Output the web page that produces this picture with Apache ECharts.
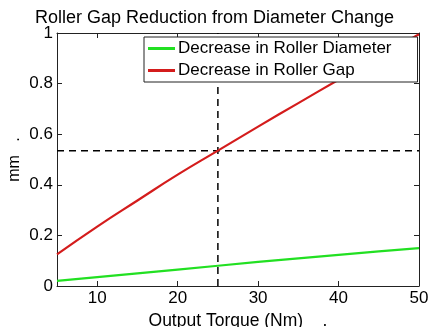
<!DOCTYPE html>
<html>
<head>
    <meta charset="UTF-8">
    <title>Roller Gap Reduction</title>
    <script src="https://cdn.jsdelivr.net/npm/echarts@6/dist/echarts.min.js"></script>
    <style>
        html, body { margin: 0; padding: 0; background: #fff; }
        #chart { width: 429px; height: 327px; }
    </style>
</head>
<body>
    <div id="chart"></div>
    <script>
        // torque values (Nm) and the two curves (mm)
        var torque = [5, 10, 15, 20, 25, 30, 35, 40, 45, 50];
        var diameterDecrease = [0.02, 0.035, 0.05, 0.065, 0.08, 0.095, 0.109, 0.123, 0.137, 0.15];
        var gapDecrease = [0.125, 0.235, 0.338, 0.44, 0.535, 0.63, 0.723, 0.815, 0.905, 0.995];
        var xTicks = [10, 20, 30, 40, 50];
        var yTicks = [0, 0.2, 0.4, 0.6, 0.8, 1];
        var markTorque = 25;
        var markGap = 0.535;

        function pairs(xs, ys) {
            return xs.map(function (x, i) { return [x, ys[i]]; });
        }

        var font = 'Liberation Sans';
        var chart = echarts.init(document.getElementById('chart'));

        var xBase = {
            type: 'value', min: 5, max: 50,
            axisLine: { show: true, onZero: false, lineStyle: { color: '#222', width: 1 } },
            axisTick: { inside: true, length: 5, customValues: xTicks, lineStyle: { color: '#222' } },
            splitLine: { show: false }
        };
        var yBase = {
            type: 'value', min: 0, max: 1,
            axisLine: { show: true, onZero: false, lineStyle: { color: '#222', width: 1 } },
            axisTick: { inside: true, length: 5, customValues: yTicks, lineStyle: { color: '#222' } },
            splitLine: { show: false }
        };

        var option = {
            animation: false,
            backgroundColor: '#fff',
            title: {
                text: 'Roller Gap Reduction from Diameter Change',
                left: 'center',
                top: 4,
                textStyle: { fontFamily: font, fontSize: 18, fontWeight: 'normal', color: '#000' }
            },
            legend: {
                data: ['Decrease in Roller Diameter', 'Decrease in Roller Gap'],
                orient: 'vertical',
                left: 144,
                top: 37,
                padding: [3, 26, 3, 4],
                itemGap: 5,
                itemWidth: 27,
                itemHeight: 3,
                icon: 'rect',
                backgroundColor: '#fff',
                borderColor: '#222',
                borderWidth: 1,
                borderRadius: 0,
                textStyle: { fontFamily: font, fontSize: 17, lineHeight: 17, color: '#000', padding: [0, 0, 0, -2] }
            },
            grid: { left: 57, right: 10, top: 33, bottom: 41, containLabel: false, outerBoundsMode: 'none' },
            xAxis: [
                Object.assign({}, xBase, {
                    position: 'bottom',
                    name: 'Output Torque (Nm)    .',
                    nameLocation: 'middle',
                    nameGap: 21,
                    nameTextStyle: { fontFamily: font, fontSize: 17.5, color: '#000' },
                    axisLabel: { customValues: xTicks, fontFamily: font, fontSize: 17, color: '#000', margin: 4 }
                }),
                Object.assign({}, xBase, { position: 'top', axisLabel: { show: false } })
            ],
            yAxis: [
                Object.assign({}, yBase, {
                    position: 'left',
                    name: 'mm   .',
                    nameLocation: 'middle',
                    nameGap: 34,
                    nameMoveOverlap: false,
                    nameTextStyle: { fontFamily: font, fontSize: 16, color: '#000' },
                    axisLabel: { customValues: yTicks, fontFamily: font, fontSize: 17, color: '#000', margin: 4 }
                }),
                Object.assign({}, yBase, { position: 'right', axisLabel: { show: false } })
            ],
            series: [
                {
                    name: 'Decrease in Roller Diameter',
                    type: 'line',
                    data: pairs(torque, diameterDecrease),
                    symbol: 'none',
                    color: '#22e022',
                    lineStyle: { width: 2.2 }
                },
                {
                    name: 'Decrease in Roller Gap',
                    type: 'line',
                    smooth: true,
                    data: pairs(torque, gapDecrease),
                    symbol: 'none',
                    color: '#d41c1c',
                    lineStyle: { width: 2.2 }
                },
                {
                    name: 'hline',
                    type: 'line',
                    data: [[5, markGap], [50, markGap]],
                    symbol: 'none',
                    color: '#000',
                    lineStyle: { width: 1.5, type: [7, 5] },
                    z: 1
                },
                {
                    name: 'vline',
                    type: 'line',
                    data: [[markTorque, 0], [markTorque, 1]],
                    symbol: 'none',
                    color: '#000',
                    lineStyle: { width: 1.5, type: [7, 5] },
                    z: 1
                }
            ]
        };
        chart.setOption(option);
    </script>
</body>
</html>
